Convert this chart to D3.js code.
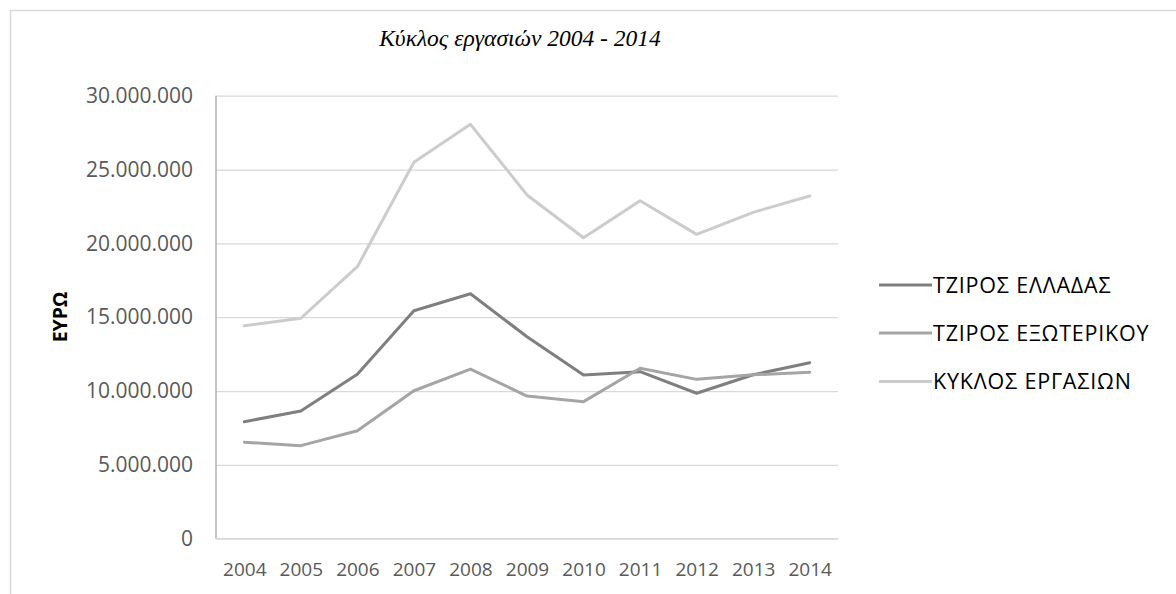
<!DOCTYPE html>
<html>
<head>
<meta charset="utf-8">
<script src="https://cdn.jsdelivr.net/npm/d3@7"></script>
<style>
  html, body { margin: 0; padding: 0; background: #fff; }
  svg { display: block; }
</style>
</head>
<body>
<svg id="chart" width="1176" height="594"></svg>
<script>
const years = ["2004","2005","2006","2007","2008","2009","2010","2011","2012","2013","2014"];
const seriesNames = ["ΤΖΙΡΟΣ ΕΛΛΑΔΑΣ", "ΤΖΙΡΟΣ ΕΞΩΤΕΡΙΚΟΥ", "ΚΥΚΛΟΣ ΕΡΓΑΣΙΩΝ"];
const tziroEllada   = [7920000, 8650000, 11130000, 15440000, 16590000, 13680000, 11090000, 11310000, 9850000, 11100000, 11920000];
const tziroExoterik = [6530000, 6300000, 7310000, 10020000, 11490000, 9660000, 9280000, 11540000, 10790000, 11100000, 11270000];
const kyklosErgasion = [14420000, 14930000, 18420000, 25490000, 28060000, 23280000, 20380000, 22890000, 20610000, 22100000, 23210000];
const yTicks = [0, 5000000, 10000000, 15000000, 20000000, 25000000, 30000000];
const seriesColors = ["#7f7f7f", "#a5a5a5", "#cccccc"];

const series = [tziroEllada, tziroExoterik, kyklosErgasion];

const svg = d3.select("#chart");
const pLeft = 216, pRight = 838, pTop = 95.7, pBottom = 538.7;

// outer border (top & left)
svg.append("path")
  .attr("d", "M10.5,594 L10.5,10.5 L1176,10.5")
  .attr("fill", "none").attr("stroke", "#d9d9d9").attr("stroke-width", 1.5);

const x = d3.scalePoint().domain(years).range([pLeft, pRight]).padding(0.5);
const y = d3.scaleLinear().domain([0, 30000000]).range([pBottom, pTop]);

const loc = d3.formatLocale({decimal: ",", thousands: ".", grouping: [3], currency: ["", "€"]});
const fmt = loc.format(",.0f");

// gridlines + y tick labels
const yAxis = d3.axisLeft(y).tickValues(yTicks).tickSize(-(pRight - pLeft)).tickFormat(fmt).tickPadding(23);
const gy = svg.append("g").attr("transform", `translate(${pLeft},0)`).call(yAxis);
gy.select(".domain").remove();
gy.selectAll(".tick line").attr("stroke", "#d9d9d9").attr("stroke-width", 1.3);
gy.selectAll(".tick text")
  .attr("fill", "#595959")
  .style("font-family", "'Open Sans', sans-serif")
  .style("font-size", "21px");

// left axis line
svg.append("line").attr("x1", pLeft).attr("x2", pLeft).attr("y1", pTop).attr("y2", pBottom)
  .attr("stroke", "#a6a6a6").attr("stroke-width", 1.3);

// x axis labels
const xAxis = d3.axisBottom(x).tickSize(0).tickPadding(24);
const gx = svg.append("g").attr("transform", `translate(0,${pBottom})`).call(xAxis);
gx.select(".domain").attr("stroke", "#d9d9d9").attr("stroke-width", 1.3)
  .attr("d", `M${pLeft},0H${pRight}`);
gx.selectAll(".tick text")
  .attr("fill", "#595959")
  .style("font-family", "'Open Sans', sans-serif")
  .style("font-size", "19px");

// lines
const line = d3.line().x((d, i) => x(years[i])).y(d => y(d));
series.forEach((s, k) => {
  svg.append("path").datum(s)
    .attr("fill", "none")
    .attr("stroke", seriesColors[k])
    .attr("stroke-width", 3)
    .attr("stroke-linejoin", "round")
    .attr("stroke-linecap", "round")
    .attr("d", line);
});

// title
svg.append("text")
  .attr("x", 520).attr("y", 46)
  .attr("text-anchor", "middle")
  .style("font-family", "'Liberation Serif', 'Times New Roman', serif")
  .style("font-style", "italic")
  .style("font-size", "23.5px")
  .attr("fill", "#000")
  .text("Κύκλος εργασιών 2004 - 2014");

// y axis title
svg.append("text")
  .attr("transform", "translate(67,317) rotate(-90)")
  .attr("text-anchor", "middle")
  .style("font-family", "'Open Sans', sans-serif")
  .style("font-weight", "bold")
  .style("font-size", "19.5px")
  .attr("fill", "#000")
  .text("ΕΥΡΩ");

// legend
const legY = [285, 333, 381.5];
seriesNames.forEach((n, k) => {
  svg.append("line").attr("x1", 879).attr("x2", 932).attr("y1", legY[k]).attr("y2", legY[k])
    .attr("stroke", seriesColors[k]).attr("stroke-width", 3);
  svg.append("text").attr("x", 933).attr("y", legY[k]).attr("dy", "0.36em")
    .style("font-family", "'Open Sans', sans-serif")
    .style("font-size", "21.5px")
    .style("letter-spacing", "0.8px")
    .attr("fill", "#000")
    .text(n);
});
</script>
</body>
</html>
